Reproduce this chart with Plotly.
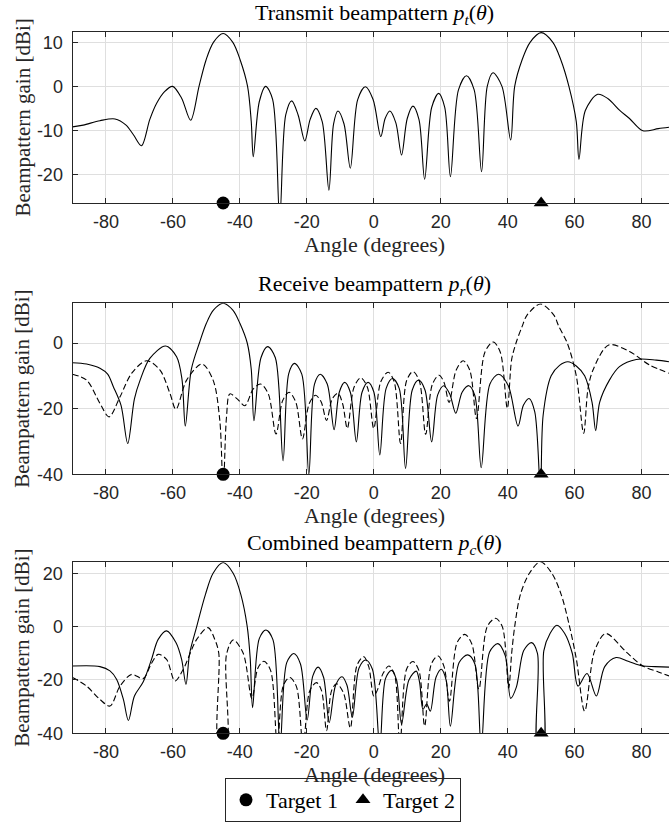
import plotly.graph_objects as go

# ---------------- data ----------------
PT_ANG = [-90, -86.8, -81.8, -77.3, -74, -71.8, -69.4, -66.9, -64.9, -62.5, -60.1, -57.4, -54.7,
          -52.2, -50.1, -47.9, -45, -42.1, -39.9, -37.7, -36.6, -36,
          -34.2, -32.3, -30.2, -28.1, -26.3, -24.5, -22.6, -20.6, -19.0, -17.3, -15.4, -13.4, -12.0, -10.7, -8.9, -7.0,
          -4.8, -2.5, -0.2, 2.1, 3.4, 4.8, 6.6, 8.3, 10.0, 11.7, 13.5, 15.2, 17.3, 19.4, 21.2, 22.9,
          25.3, 27.7, 30.0, 32.2, 33.9, 35.6, 38.3, 40.9,
          42.1, 44.3, 46.7, 50.0, 53.5, 55.9, 58.3, 60.5, 61.3,
          63.2, 66.9, 70, 73.4, 76.4, 80.4, 85, 88.2]
PT_DB = [-9.2, -8.8, -7.8, -7.4, -8.8, -11, -13.5, -7.5, -3.9, -1.2, 0, -2.7, -7.7,
         0, 6, 10, 12, 10, 6, 0, -8, -16,
         -3.5, 0, -3, -30, -6.5, -3.3, -6.5, -12.4, -7.5, -5.0, -8, -23.6, -8.5, -5.6, -8.5, -18.6,
         -3, -0.1, -3, -11.4, -7.3, -5.6, -8.3, -15.6, -7.3, -4.5, -7.5, -21.1, -4.8, -1.6, -4.8, -20.5,
         -0.8, 2.4, -0.8, -19.4, 0, 3.1, 0, -12.2,
         0, 6, 10, 12.2, 10, 6, 0, -8, -16.6,
         -5.5, -1.8, -2.8, -5.4, -7.3, -10.1, -9.6, -9.3]

PR1_ANG = [-90, -85.8, -81.8, -79.5, -77.8, -75.5, -73.5, -71.5, -69.8, -66.9, -62.2, -58.9, -57.3, -56.3,
           -54.5, -52.1, -50.0, -47.9, -45, -42.1, -40.0, -37.8, -36.6, -35.8,
           -33.7, -31.7, -29.4, -27.1, -25.4, -23.7, -21.5, -19.4, -17.7, -16.0, -13.9, -11.85,
           -10.3, -8.7, -7.0, -5.2, -3.5, -1.7, 0.05, 1.8, 3.7, 5.6, 7.6, 9.5,
           11.5, 13.4, 15.3, 17.3, 19.1, 20.9, 22.7, 24.5, 26.4, 28.4, 30.2, 32.1,
           34.7, 37.3, 40.2, 43.1, 44.7, 46.4, 48.1, 49.8,
           50.6, 53, 55.5, 58, 60.5, 63, 65.2, 66.3, 67.5, 70.4, 73.4, 78.4, 84.4, 88.2]
PR1_DB = [-6.0, -6.4, -7.7, -9.5, -13.3, -19, -30.6, -17, -11.3, -4.7, -0.9, -4.2, -11, -25.3,
          -8, 0, 6, 10, 12.1, 10, 6, 0, -8, -23.7,
          -4.5, -1.1, -4.5, -35.9, -9.3, -6.2, -9.5, -40, -12.5, -9.5, -12.5, -26.4,
          -15, -12, -15, -30.1, -15, -12, -15, -34.1, -13.8, -10.8, -13.8, -38.2,
          -14.3, -11.3, -14.3, -30.1, -15.8, -13.0, -15.5, -21.4, -15, -13.0, -16, -38,
          -12.5, -9.5, -13, -25.3, -19, -16.9, -21, -45,
          -22, -10, -6.8, -5.7, -7, -10, -18, -26.7, -18, -11.3, -7.2, -5.0, -5.2, -5.7]

PR2_ANG = [-90, -85.8, -81.8, -79.1, -75.8, -72.3, -67.9, -63.9, -60.9, -59.1, -55.9, -51.3, -48, -46, -45, -44, -43,
           -40.8, -38.5, -36, -33.8, -31.5, -29.2, -27.2, -25.3, -23.3, -21.3, -19.3, -17.4, -15.7, -14.1,
           -12.4, -10.7, -9.3, -7.9, -5.9, -3.9, -1.9, 0, 2.1, 4.3, 6.1, 8.0,
           9.8, 11.7, 13.6, 15.5, 17.5, 19.5, 21, 22.5, 24.6, 26.7, 28.7, 30.7,
           33.2, 35.7, 37.8, 39.9, 41.2, 42.5, 44.3, 45.8, 49.8, 53.8, 55.3, 57.8, 60.5, 62.7,
           64, 65.5, 70.2, 76.4, 82.4, 88.2]
PR2_DB = [-9.5, -11.3, -18.4, -22.5, -16.4, -9.2, -5.4, -8.2, -15.3, -20.2, -11.3, -6.4, -11.3, -23.5, -45, -22.6, -15.5,
          -17, -19.1, -14, -12.5, -15.5, -27.7, -17.5, -15, -18, -29.2, -18.5, -15.9, -18, -23.6,
          -17, -15.3, -18.5, -26, -13.5, -10.6, -13.5, -26, -11.8, -8.9, -11.8, -30.6,
          -11.5, -8.7, -11.5, -27.8, -12.6, -9.8, -12, -18.1, -8.3, -5.4, -8.3, -23,
          -2.8, 0.3, -2.8, -19.9, -5, 0, 5, 8.5, 11.9, 8.5, 5, 0, -10, -27.5,
          -14, -8.2, -0.6, -2.6, -6.7, -9.2]

PC1_ANG = [-90, -81.8, -78.8, -76.8, -74.8, -73.3, -71.5, -68.9, -66.4, -64.4, -61.9, -59.1, -57.4, -56.1,
           -55, -52.9, -50.3, -48, -45, -42, -39.7, -37.8, -36.9, -36.2,
           -34.2, -32.2, -30.1, -28, -26, -23.9, -21.9, -19.9, -18.2, -16.6, -15, -13.3,
           -11.4, -9.5, -8, -6.4, -4.4, -2.4, -0.4, 1.8, 3.5, 5.3, 6.8, 8.3,
           10.5, 12.7, 13.7, 14.7, 15.8, 16.9, 18.6, 20.2, 21.6, 22.9,
           25.5, 28.1, 30.2, 32.1, 34.6, 37.1, 39.3, 40.9, 42.6, 44.8, 47.1, 48.9, 49.0, 50.6, 50.8,
           52.7, 54.7, 57, 59.3, 61, 63.7, 66.5, 69, 72.4, 76, 80.4, 84, 88.2]
PC1_DB = [-14.8, -15, -16.6, -19.8, -27.3, -35.2, -26, -20.8, -12.3, -4.8, -1.6, -6.0, -12.3, -21.7,
          -10, 0, 12, 20, 24, 20, 12, 0, -12, -30.4,
          -4.5, -1.3, -5, -45, -13.5, -10.1, -14, -35, -18.5, -15.2, -19, -36,
          -22, -18.8, -22, -34, -15.5, -12.5, -16, -45, -19.5, -16.4, -20, -36.5,
          -20, -16.7, -21, -31, -29, -31.7, -19, -16, -20, -37.3,
          -13.5, -10.6, -14, -45, -9.5, -6.4, -11, -26.9, -22.7, -9, -6.0, -10, -45, -45, -9.1,
          -2.5, 0.5, -2.5, -10, -22.3, -17.6, -26, -15, -11.6, -13, -14.8, -15, -15.2]

PC2_ANG = [-90, -85.8, -81.8, -78.8, -75.8, -72.3, -68.9, -66.5, -64.4, -61.9, -59.4, -56.9, -52.9, -49.5, -47.5,
           -46.3, -46.2, -44.1, -44, -42, -39, -36.4,
           -34.6, -32.8, -30.8, -28.8, -27, -25.1, -23.1, -21.1, -19.1, -17.1, -15.6, -14.1,
           -12.6, -11.1, -9, -7, -5, -3, -1.5, 0, 1, 2.8, 4.5, 6.2, 7.8,
           9.8, 11.7, 13.5, 15.2, 17.2, 19.2, 21, 22.6, 24.9, 27.2, 29.3, 31.4,
           33.9, 36.4, 38.4, 40.3, 41.2, 42.1, 43.8, 46.5, 49.8, 53.2, 56.0, 58.5, 60.5, 63,
           66, 69.3, 75.4, 80.4, 85, 88.2]
PC2_DB = [-19.1, -22.3, -27.3, -29.8, -22.3, -17.9, -19.5, -14, -10.4, -12.3, -20.4, -16, -4.8, -0.4, -4.8,
          -10, -45, -45, -10.5, -5.0, -10, -27,
          -15.5, -13, -16.5, -45, -22, -19.1, -22.5, -45, -24, -21, -24, -39,
          -24, -21.4, -25, -38, -14.5, -11.3, -15, -26, -24, -17.5, -14.8, -18, -45,
          -16, -13.1, -16.5, -37.3, -14, -11, -15, -28, -6, -2.9, -6.5, -23.5,
          0, 3.1, 0, -23, -10, 0, 12, 20, 24.3, 20, 12, 0, -12, -31.7,
          -9, -2.6, -9.5, -14.8, -17, -18.5]

TARGET_ANG = [-45, 50]
TARGET_NAMES = ["Target 1", "Target 2"]
TARGET_SYMBOLS = ["circle", "triangle-up"]

TITLES = ["Transmit beampattern <i>p<sub>t</sub></i>(<i>θ</i>)",
          "Receive beampattern <i>p<sub>r</sub></i>(<i>θ</i>)",
          "Combined beampattern <i>p<sub>c</sub></i>(<i>θ</i>)"]
Y_RANGES = [[-26.5, 12.35], [-40, 12.1], [-40, 24.1]]
Y_TICKS = [[-20, -10, 0, 10], [-40, -20, 0], [-40, -20, 0, 20]]
Y_TICK_LABELS = [["-20", "-10", "0", "10"], ["-40", "-20", "0"], ["-40", "-20", "0", "20"]]
X_TICKS = [-80, -60, -40, -20, 0, 20, 40, 60, 80]
X_TICK_LABELS = ["-80", "-60", "-40", "-20", "0", "20", "40", "60", "80"]

# ---------------- layout geometry (pixels) ----------------
W, H = 669, 827
X_LEFT = 72.5
PANEL_PX = [(32, 203), (303.3, 474.3), (562.3, 733.3)]  # top, bottom

SERIF = "Liberation Serif"
SANS = "Liberation Sans"
AX = "#262626"
GRID = "#dfdfdf"


def py(p):
    return 1 - p / H


fig = go.Figure()

curves = [
    [(PT_ANG, PT_DB, "solid")],
    [(PR1_ANG, PR1_DB, "solid"), (PR2_ANG, PR2_DB, "6px,3px")],
    [(PC1_ANG, PC1_DB, "solid"), (PC2_ANG, PC2_DB, "6px,3px")],
]

annotations = []
for i in range(3):
    ax_id = "" if i == 0 else str(i + 1)
    xa, ya = "x" + ax_id, "y" + ax_id
    for ang, db, dash in curves[i]:
        fig.add_trace(go.Scatter(x=ang, y=db, mode="lines", xaxis=xa, yaxis=ya,
                                 line=dict(color="black", width=1.1, dash=dash, shape="spline", smoothing=0.9),
                                 showlegend=False, hoverinfo="skip"))
    for k in range(2):
        fig.add_trace(go.Scatter(x=[TARGET_ANG[k]], y=[Y_RANGES[i][0]], mode="markers", xaxis=xa, yaxis=ya,
                                 marker=dict(symbol=TARGET_SYMBOLS[k], color="black", size=13),
                                 name=TARGET_NAMES[k], showlegend=(i == 0), cliponaxis=False))
    top, bot = PANEL_PX[i]
    fig.layout["xaxis" + ax_id] = dict(
        domain=[X_LEFT / W, 1], range=[-90, 88.2], anchor=ya, automargin=False,
        tickvals=X_TICKS, ticktext=X_TICK_LABELS, ticks="inside", ticklen=5, tickcolor=AX,
        showline=True, linecolor=AX, linewidth=1, mirror="ticks",
        showgrid=True, gridcolor=GRID, gridwidth=1, zeroline=False,
        tickfont=dict(family=SANS, size=18, color=AX), ticklabelstandoff=2)
    fig.layout["yaxis" + ax_id] = dict(
        domain=[py(bot), py(top)], range=Y_RANGES[i], anchor=xa, automargin=False,
        tickvals=Y_TICKS[i], ticktext=Y_TICK_LABELS[i], ticks="inside", ticklen=5, tickcolor=AX,
        showline=True, linecolor=AX, linewidth=1, mirror=False,
        showgrid=True, gridcolor=GRID, gridwidth=1, zeroline=False,
        tickfont=dict(family=SANS, size=18, color=AX), ticklabelstandoff=5)
    cx = (X_LEFT + 675.5) / 2 / W
    annotations.append(dict(text=TITLES[i], x=cx, y=py(top), xref="paper", yref="paper",
                            xanchor="center", yanchor="bottom", yshift=2, showarrow=False,
                            font=dict(family=SERIF, size=22, color="black")))
    annotations.append(dict(text="Angle (degrees)", x=cx, y=py(bot + 41), xref="paper", yref="paper",
                            xanchor="center", yanchor="middle", showarrow=False,
                            font=dict(family=SERIF, size=22, color=AX)))
    annotations.append(dict(text="Beampattern gain [dBi]", x=22 / W, y=py((top + bot) / 2), xref="paper",
                            yref="paper", xanchor="center", yanchor="middle", textangle=-90, showarrow=False,
                            font=dict(family=SERIF, size=21, color=AX)))

fig.update_layout(
    width=W, height=H, margin=dict(l=0, r=0, t=0, b=0, autoexpand=False),
    paper_bgcolor="white", plot_bgcolor="white",
    annotations=annotations,
    legend=dict(orientation="h", x=343 / W, y=py(800), xanchor="center", yanchor="middle",
                bordercolor=AX, borderwidth=1, bgcolor="white",
                font=dict(family=SERIF, size=22, color="black"), itemwidth=30),
)

fig.write_html("out.html", config={"displayModeBar": False},
               post_script="document.body.style.margin='0';document.body.style.overflow='hidden';")
